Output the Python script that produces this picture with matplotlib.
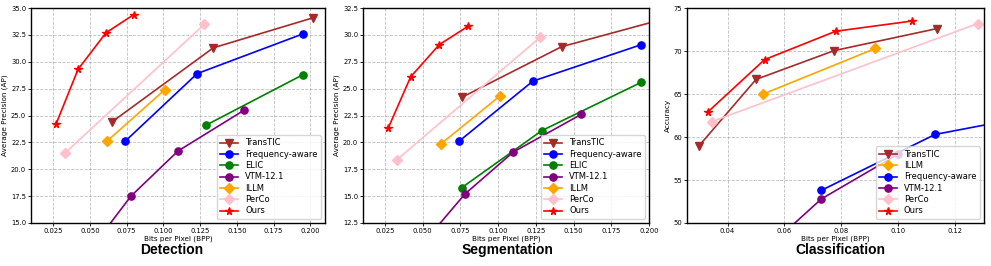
import numpy as np
import matplotlib
matplotlib.use("Agg")
import matplotlib.pyplot as plt

# ---- Detection ----
det_transtic_x = [0.065, 0.134, 0.202]
det_transtic_y = [24.4, 31.3, 34.1]
det_freq_x = [0.074, 0.123, 0.195]
det_freq_y = [22.6, 28.9, 32.6]
det_elic_x = [0.129, 0.195]
det_elic_y = [24.1, 28.8]
det_vtm_x = [0.058, 0.078, 0.110, 0.155]
det_vtm_y = [13.9, 17.5, 21.7, 25.5]
det_illm_x = [0.062, 0.101]
det_illm_y = [22.65, 27.4]
det_perco_x = [0.033, 0.128]
det_perco_y = [21.5, 33.5]
det_ours_x = [0.027, 0.042, 0.061, 0.080]
det_ours_y = [24.2, 29.3, 32.7, 34.4]

# ---- Segmentation ----
seg_transtic_x = [0.076, 0.142, 0.205]
seg_transtic_y = [24.2, 28.9, 31.3]
seg_freq_x = [0.074, 0.123, 0.195]
seg_freq_y = [20.1, 25.7, 29.1]
seg_elic_x = [0.076, 0.129, 0.195]
seg_elic_y = [15.8, 21.1, 25.6]
seg_vtm_x = [0.058, 0.078, 0.110, 0.155]
seg_vtm_y = [11.9, 15.2, 19.1, 22.6]
seg_illm_x = [0.062, 0.101]
seg_illm_y = [19.85, 24.3]
seg_perco_x = [0.033, 0.128]
seg_perco_y = [18.4, 29.8]
seg_ours_x = [0.027, 0.042, 0.061, 0.080]
seg_ours_y = [21.3, 26.1, 29.1, 30.8]

# ---- Classification ----
cls_transtic_x = [0.030, 0.050, 0.0775, 0.1135]
cls_transtic_y = [59.0, 66.7, 70.05, 72.6]
cls_illm_x = [0.0525, 0.092]
cls_illm_y = [65.0, 70.3]
cls_freq_x = [0.073, 0.113, 0.140]
cls_freq_y = [53.8, 60.3, 62.0]
cls_vtm_x = [0.058, 0.073, 0.100]
cls_vtm_y = [48.3, 52.8, 58.0]
cls_perco_x = [0.0345, 0.128]
cls_perco_y = [61.8, 73.2]
cls_ours_x = [0.033, 0.053, 0.078, 0.105]
cls_ours_y = [62.9, 69.0, 72.3, 73.5]

styles = {
    "TransTIC": dict(color="brown", marker="v"),
    "Frequency-aware": dict(color="blue", marker="o"),
    "ELIC": dict(color="green", marker="o"),
    "VTM-12.1": dict(color="purple", marker="o"),
    "ILLM": dict(color="orange", marker="D"),
    "PerCo": dict(color="pink", marker="D"),
    "Ours": dict(color="red", marker="*"),
}

panels = [
    dict(series=[("TransTIC", det_transtic_x, det_transtic_y),
                 ("Frequency-aware", det_freq_x, det_freq_y),
                 ("ELIC", det_elic_x, det_elic_y),
                 ("VTM-12.1", det_vtm_x, det_vtm_y),
                 ("ILLM", det_illm_x, det_illm_y),
                 ("PerCo", det_perco_x, det_perco_y),
                 ("Ours", det_ours_x, det_ours_y)],
         xlim=(0.010, 0.210), ylim=(15, 35), xticks=np.arange(0.025, 0.2001, 0.025),
         yticks=np.arange(15, 35.01, 2.5), xfmt="{:.3f}", yfmt="{:.1f}",
         ylabel="Average Precision (AP)", title="Detection",
         rect=[0.0313, 0.1617, 0.2967, 0.808], tx=0.1736),
    dict(series=[("TransTIC", seg_transtic_x, seg_transtic_y),
                 ("Frequency-aware", seg_freq_x, seg_freq_y),
                 ("ELIC", seg_elic_x, seg_elic_y),
                 ("VTM-12.1", seg_vtm_x, seg_vtm_y),
                 ("ILLM", seg_illm_x, seg_illm_y),
                 ("PerCo", seg_perco_x, seg_perco_y),
                 ("Ours", seg_ours_x, seg_ours_y)],
         xlim=(0.0104, 0.200), ylim=(12.5, 32.5), xticks=np.arange(0.025, 0.2001, 0.025),
         yticks=np.arange(12.5, 32.51, 2.5), xfmt="{:.3f}", yfmt="{:.1f}",
         ylabel="Average Precision (AP)", title="Segmentation",
         rect=[0.3663, 0.1617, 0.2886, 0.808], tx=0.5126),
    dict(series=[("TransTIC", cls_transtic_x, cls_transtic_y),
                 ("ILLM", cls_illm_x, cls_illm_y),
                 ("Frequency-aware", cls_freq_x, cls_freq_y),
                 ("VTM-12.1", cls_vtm_x, cls_vtm_y),
                 ("PerCo", cls_perco_x, cls_perco_y),
                 ("Ours", cls_ours_x, cls_ours_y)],
         xlim=(0.0257, 0.1302), ylim=(50, 75), xticks=np.arange(0.04, 0.1201, 0.02),
         yticks=np.arange(50, 75.01, 5), xfmt="{:.2f}", yfmt="{:.0f}",
         ylabel="Accuracy", title="Classification",
         rect=[0.6932, 0.1617, 0.2997, 0.808], tx=0.8476),
]

fig = plt.figure(figsize=(9.91, 2.66), dpi=100)

for p in panels:
    ax = fig.add_axes(p["rect"])
    for name, xs, ys in p["series"]:
        st = styles[name]
        ms = 5.5 if st["marker"] == "*" else 5.2
        ax.plot(xs, ys, "-", color=st["color"], marker=st["marker"],
                markersize=ms, linewidth=1.2, label=name)
    ax.set_xlim(*p["xlim"])
    ax.set_ylim(*p["ylim"])
    ax.set_xticks(p["xticks"])
    ax.set_yticks(p["yticks"])
    ax.set_xticklabels([p["xfmt"].format(v) for v in p["xticks"]])
    ax.set_yticklabels([p["yfmt"].format(v) for v in p["yticks"]])
    ax.tick_params(labelsize=4.9, length=2, width=0.6, pad=1.5)
    ax.grid(True, linestyle="--", color="gray", alpha=0.5, linewidth=0.6)
    ax.set_xlabel("Bits per Pixel (BPP)", fontsize=5.2, labelpad=1.5)
    ax.set_ylabel(p["ylabel"], fontsize=5.2, labelpad=2)
    for s in ax.spines.values():
        s.set_linewidth(1.0)
    ax.legend(loc="lower right", fontsize=6, framealpha=0.8, borderpad=0.4,
              labelspacing=0.28, handlelength=2.2)
    fig.text(p["tx"], 0.06, p["title"], ha="center", va="center",
             fontsize=10, fontweight="bold", family="Liberation Sans")

fig.savefig("out.png", dpi=100)
